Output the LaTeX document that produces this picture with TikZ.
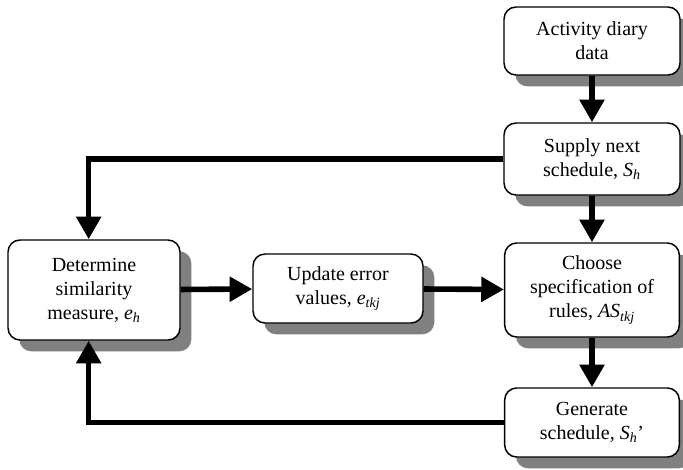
\documentclass[tikz,border=0pt]{standalone}
\usepackage{fontspec}
\setmainfont{Liberation Serif}
\usepackage{tikz}
\usetikzlibrary{arrows.meta, shadows, positioning}
\newcommand{\vsub}[2]{\textit{#1}\textsubscript{\textit{#2}}}

\begin{document}
\begin{tikzpicture}[x=0.75pt,y=-0.75pt,
        stepbox/.style={draw, line width=1.1pt, rounded corners=9pt, fill=white,
            align=center, inner sep=0pt, font=\fontsize{15pt}{18pt}\selectfont,
            drop shadow={shadow xshift=8.5pt, shadow yshift=-8.5pt, fill=black!50, opacity=1}},
        flow/.style={line width=4.2pt, -{Triangle[length=17pt,width=18pt]}}]
        \useasboundingbox (0,0) rectangle (683,469);
        % boxes
        \node[stepbox, minimum width=132pt, minimum height=51pt] (diary) at (592,41) {Activity diary\\data};
        \node[stepbox, minimum width=132pt, minimum height=54pt] (supply) at (592,159) {Supply next\\schedule, \vsub{S}{h}};
        \node[stepbox, minimum width=131pt, minimum height=70.5pt] (choose) at (592,290) {Choose\\specification of\\rules, \vsub{AS}{tkj}};
        \node[stepbox, minimum width=131pt, minimum height=51.75pt] (generate) at (592,422.5) {Generate\\schedule, \vsub{S}{h}’};
        \node[stepbox, minimum width=129pt, minimum height=75pt] (similar) at (94,290) {Determine\\similarity\\measure, \vsub{e}{h}};
        \node[stepbox, minimum width=127.5pt, minimum height=51.75pt] (update) at (338,288.5) {Update error\\values, \vsub{e}{tkj}};
        % connectors
        \draw[flow] (diary) -- (supply);
        \draw[flow] (supply) -- (choose);
        \draw[flow] (choose) -- (generate);
        \draw[flow] (similar) -- (update);
        \draw[flow] (update) -- (choose);
        \draw[flow] (supply.west) -| ([xshift=-4]similar.north);
        \draw[flow] (generate.west) -| ([xshift=-4]similar.south);
    \end{tikzpicture}
\end{document}
